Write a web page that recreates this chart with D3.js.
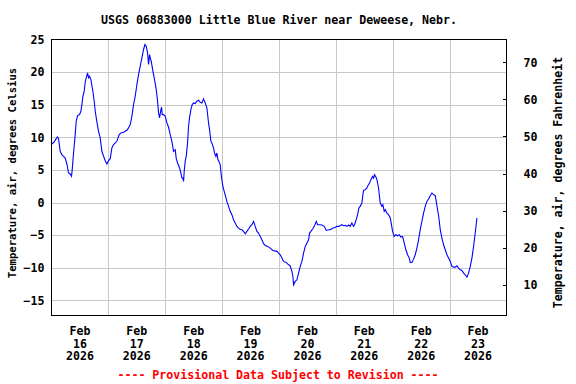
<!DOCTYPE html>
<html>
<head>
<meta charset="utf-8">
<script src="https://cdn.jsdelivr.net/npm/d3@7"></script>
<style>
  html, body { margin: 0; padding: 0; background: #fff; }
  svg { display: block; }
  text { font-family: "DejaVu Sans Mono", "Liberation Mono", monospace; font-weight: bold; }
</style>
</head>
<body>
<svg id="chart" width="576" height="384"></svg>
<script>
// ---- Data (hours since 2026-02-16 00:00, air temperature in °C) ----
const hoursSinceStart = [
  0.15,1.14,1.98,2.55,2.97,3.67,4.37,5.08,5.78,6.49,7.19,7.89,8.46,8.74,9.30,10.0,10.43,10.99,11.83,12.4,
  12.82,13.24,13.8,14.22,14.65,15.21,15.63,16.05,16.62,17.46,18.02,18.45,19.15,19.85,20.56,21.26,21.96,22.67,23.37,
  24.07,24.78,25.48,26.18,26.89,27.59,28.57,29.28,30.40,31.81,32.51,33.22,33.92,34.63,35.33,36.03,36.74,37.44,38.14,
  38.85,39.41,39.97,40.54,40.96,41.38,41.66,42.08,42.79,43.35,44.20,44.76,45.18,45.6,46.17,46.45,46.73,47.29,48.0,
  48.7,49.4,50.1,50.81,51.51,52.21,52.64,53.2,54.04,54.61,55.01,55.45,55.73,56.0,56.42,56.84,57.41,57.83,58.25,
  58.81,59.38,59.94,60.64,61.35,62.05,62.75,63.46,64.16,64.86,65.57,66.27,66.69,67.26,67.68,68.38,68.80,69.37,69.79,
  70.21,70.63,71.19,71.76,72.32,72.88,73.45,74.01,74.71,75.42,76.12,76.82,77.53,78.23,79.35,80.34,81.04,81.75,82.45,
  83.15,83.86,84.56,85.26,85.97,86.67,87.38,88.08,88.78,89.49,90.19,91.17,92.3,93.42,94.41,95.11,95.82,96.52,97.22,
  97.93,99.05,100.04,100.74,101.45,101.87,102.15,102.85,103.56,104.26,104.96,105.67,106.37,107.07,107.78,108.48,108.9,
  109.47,110.17,110.87,111.72,112.28,113.13,114.11,115.1,115.94,116.92,117.63,118.74,119.72,120.42,121.13,121.83,
  122.53,123.24,123.94,124.65,125.35,126.05,126.76,127.46,127.88,128.58,129.15,129.71,130.27,130.98,131.4,131.68,
  132.38,133.09,133.51,134.21,134.78,135.48,135.9,136.32,136.89,137.31,138.01,138.72,139.42,139.84,140.4,140.83,
  141.53,142.23,142.94,143.36,143.92,144.62,145.33,146.03,146.73,147.44,148.14,148.85,149.55,150.25,150.96,151.38,
  152.08,152.79,153.49,154.19,154.9,155.6,156.3,157.01,157.71,158.41,159.12,159.82,160.53,161.23,161.93,162.35,
  162.92,163.48,164.04,164.75,165.45,166.15,166.86,167.56,168.26,168.97,169.67,170.37,171.08,171.78,172.48,173.19,
  173.89,174.59,175.3,176.0,176.7,177.41,178.11,178.53,178.96,179.52
];
const airTempC = [
  8.99,9.30,9.81,10.06,9.81,7.87,7.35,7.10,6.84,5.92,4.54,4.39,4.03,5.05,7.61,10.42,12.47,13.34,13.49,14.0,
  15.03,16.30,17.07,18.45,19.12,19.88,19.12,19.37,18.86,17.07,15.54,14.0,12.37,10.93,9.91,7.87,7.10,6.43,5.92,
  6.43,6.74,8.38,8.89,9.14,9.40,10.42,10.68,10.78,11.09,11.45,11.96,13.23,15.03,16.30,18.09,19.63,20.91,22.19,
  23.47,24.23,23.98,22.95,21.16,22.70,22.19,21.67,20.14,19.12,17.33,15.54,13.75,12.98,14.26,14.62,13.49,13.49,13.23,
  12.21,11.55,10.42,9.40,7.87,8.12,6.74,6.07,5.31,4.54,3.77,3.77,3.26,4.80,6.33,7.10,9.14,11.70,12.98,
  14.26,15.03,15.28,15.18,15.54,15.69,15.38,15.28,15.90,15.28,14.51,12.21,11.19,9.40,9.14,8.38,7.61,7.10,7.61,
  6.59,6.33,5.82,3.77,2.49,1.73,0.96,0.19,-0.58,-1.34,-1.85,-2.62,-3.13,-3.64,-4.05,-4.16,-4.41,-4.77,-4.41,
  -4.05,-3.64,-3.39,-2.88,-3.64,-4.41,-4.67,-5.18,-5.69,-6.30,-6.56,-6.71,-6.97,-7.33,-7.43,-7.43,-7.74,-7.99,-8.50,
  -9.01,-9.17,-9.53,-9.68,-10.55,-11.32,-12.60,-12.08,-11.83,-10.80,-9.78,-9.01,-7.74,-6.71,-6.20,-5.69,-4.67,
  -4.41,-4.05,-3.64,-2.88,-3.39,-3.39,-3.44,-3.64,-4.26,-4.16,-4.16,-3.90,-3.80,-3.64,-3.64,-3.54,
  -3.39,-3.54,-3.49,-3.64,-3.44,-3.64,-3.13,-3.64,-3.39,-2.62,-1.85,-0.83,-0.57,-0.06,1.22,1.88,
  1.98,2.24,2.60,3.01,3.52,4.03,3.77,4.29,3.93,3.52,2.24,-0.06,-0.57,-0.32,-1.34,-1.09,
  -1.60,-1.85,-2.36,-3.13,-4.41,-5.18,-4.92,-5.08,-4.92,-5.28,-5.18,-6.20,-7.22,-7.99,-8.50,-9.17,
  -9.17,-8.66,-7.99,-6.97,-5.69,-4.15,-2.88,-1.60,-0.57,0.19,0.55,1.06,1.47,1.22,1.06,0.19,
  -1.09,-2.36,-4.15,-5.43,-6.46,-7.22,-7.99,-8.50,-9.01,-9.78,-9.88,-9.88,-9.68,-10.04,-10.29,-10.40,
  -10.80,-11.06,-11.42,-10.80,-9.78,-8.50,-6.71,-5.43,-4.15,-2.36
];
const celsiusTicks = [-15, -10, -5, 0, 5, 10, 15, 20, 25];
const fahrenheitTicks = [10, 20, 30, 40, 50, 60, 70];
const dayLabelMonths = ["Feb","Feb","Feb","Feb","Feb","Feb","Feb","Feb"];
const dayLabelDays = ["16","17","18","19","20","21","22","23"];
const dayLabelYears = ["2026","2026","2026","2026","2026","2026","2026","2026"];
const titleText = "USGS 06883000 Little Blue River near Deweese, Nebr.";
const leftTitle = "Temperature, air, degrees Celsius";
const rightTitle = "Temperature, air, degrees Fahrenheit";
const footerText = "---- Provisional Data Subject to Revision ----";

// ---- Layout ----
const startDate = new Date(2026, 1, 16, 0, 0, 0);
const endDate = new Date(2026, 1, 24, 0, 0, 0);
const plot = { left: 51.5, right: 506.5, top: 39.5, bottom: 315.5 };

const svg = d3.select("#chart");
svg.append("rect").attr("width", 576).attr("height", 384).attr("fill", "#fff");

const x = d3.scaleTime().domain([startDate, endDate]).range([plot.left, plot.right]);
const yC = d3.scaleLinear().domain([-17.3, 25]).range([plot.bottom, plot.top]);
const yF = d3.scaleLinear().domain([1.7, 76.15]).range([plot.bottom, plot.top]);

const data = hoursSinceStart.map((h, i) => ({
  t: new Date(startDate.getTime() + h * 3600000),
  v: airTempC[i]
}));

// gridlines
const dayTicks = d3.timeDay.range(d3.timeDay.offset(startDate, 1), endDate);
const grid = svg.append("g").attr("stroke", "#c8c8c8").attr("stroke-width", 1).attr("shape-rendering", "crispEdges");
grid.selectAll("line.v").data(dayTicks).join("line")
  .attr("x1", d => Math.round(x(d)) + 0.5).attr("x2", d => Math.round(x(d)) + 0.5)
  .attr("y1", plot.top).attr("y2", plot.bottom);
grid.selectAll("line.h").data(celsiusTicks.filter(v => v < 25)).join("line")
  .attr("x1", plot.left).attr("x2", plot.right)
  .attr("y1", d => Math.round(yC(d)) + 0.5).attr("y2", d => Math.round(yC(d)) + 0.5);

// data line
svg.append("defs").append("clipPath").attr("id", "clip")
  .append("rect").attr("x", plot.left).attr("y", plot.top)
  .attr("width", plot.right - plot.left).attr("height", plot.bottom - plot.top);
svg.append("path").datum(data)
  .attr("clip-path", "url(#clip)")
  .attr("fill", "none").attr("stroke", "#0000ff").attr("stroke-width", 1.1)
  .attr("d", d3.line().x(d => x(d.t)).y(d => yC(d.v)));

// frame
svg.append("rect").attr("x", plot.left).attr("y", plot.top)
  .attr("width", plot.right - plot.left).attr("height", plot.bottom - plot.top)
  .attr("fill", "none").attr("stroke", "#000").attr("stroke-width", 1)
  .attr("shape-rendering", "crispEdges");

const fs = 11.6;
// left axis
const leftAxis = d3.axisLeft(yC).tickValues(celsiusTicks).tickSize(0).tickPadding(7).tickFormat(d3.format("d"));
const gL = svg.append("g").attr("transform", `translate(${plot.left},0)`).call(leftAxis);
gL.select(".domain").remove();
gL.selectAll("text").attr("font-size", fs).attr("fill", "#000")
  .attr("font-family", "DejaVu Sans Mono").attr("font-weight", "bold");

// right axis
const rightAxis = d3.axisRight(yF).tickValues(fahrenheitTicks).tickSize(-4).tickPadding(17).tickFormat(d3.format("d"));
const gR = svg.append("g").attr("transform", `translate(${plot.right},0)`).call(rightAxis);
gR.select(".domain").remove();
gR.selectAll("line").attr("stroke", "#000").attr("shape-rendering", "crispEdges");
gR.selectAll("text").attr("font-size", fs).attr("fill", "#000")
  .attr("font-family", "DejaVu Sans Mono").attr("font-weight", "bold");

// bottom labels (centered at noon of each day)
const noonDates = d3.timeDay.range(startDate, endDate).map(d => d3.timeHour.offset(d, 12));
const gB = svg.append("g").attr("font-size", fs).attr("text-anchor", "middle");
noonDates.forEach((d, i) => {
  const t = gB.append("text").attr("x", x(d)).attr("y", 335);
  t.append("tspan").attr("x", x(d)).attr("y", 335).text(dayLabelMonths[i]);
  t.append("tspan").attr("x", x(d)).attr("y", 347.5).text(dayLabelDays[i]);
  t.append("tspan").attr("x", x(d)).attr("y", 360).text(dayLabelYears[i]);
});

// titles
svg.append("text").attr("x", 279).attr("y", 24).attr("text-anchor", "middle")
  .attr("font-size", fs).text(titleText);
svg.append("text").attr("transform", "translate(16,173) rotate(-90)").attr("text-anchor", "middle")
  .attr("font-size", 10.6).text(leftTitle);
svg.append("text").attr("transform", "translate(561.5,182.5) rotate(-90)").attr("text-anchor", "middle")
  .attr("font-size", fs).text(rightTitle);
svg.append("text").attr("x", 278).attr("y", 379).attr("text-anchor", "middle")
  .attr("font-size", fs).attr("fill", "#ff0000").text(footerText);
</script>
</body>
</html>
